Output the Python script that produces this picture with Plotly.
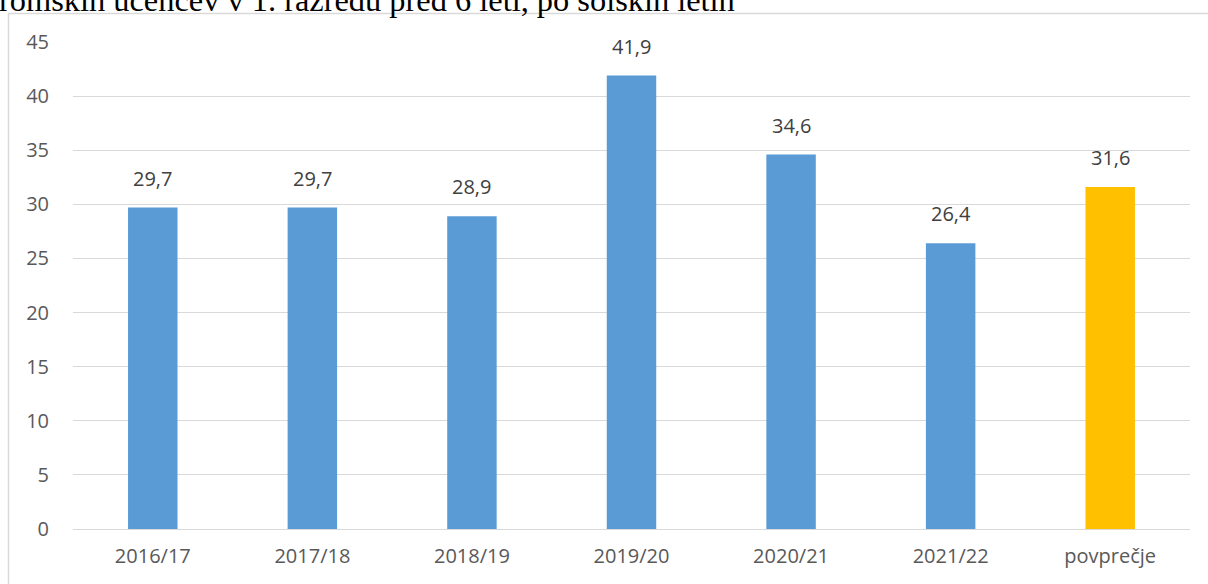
import plotly.graph_objects as go

categories = ["2016/17", "2017/18", "2018/19", "2019/20", "2020/21", "2021/22", "povprečje"]
values = [29.7, 29.7, 28.9, 41.9, 34.6, 26.4, 31.6]
bar_colors = ["#5B9BD5"] * 6 + ["#FFC000"]
y_ticks = [0, 5, 10, 15, 20, 25, 30, 35, 40, 45]
title_text = "romskih učencev v 1. razredu pred 6 leti, po šolskih letih"

W, H = 1208, 584
ML, MR, MT, MB = 73, 18, 42, 55
PW = W - ML - MR
PH = H - MT - MB

fig = go.Figure()
fig.add_trace(go.Bar(
    x=categories, y=values, marker=dict(color=bar_colors, line=dict(width=0)),
    hoverinfo="skip", showlegend=False,
))

for c, v in zip(categories, values):
    fig.add_annotation(
        x=c, y=v, xref="x", yref="y", text=f"{v:.1f}".replace(".", ","),
        showarrow=False, yanchor="bottom", yshift=14,
        font=dict(family="Open Sans, Lato, sans-serif", size=20, color="#404040"),
    )

def px_x(p):
    return (p - ML) / PW

def px_y(p):
    return (H - MB - p) / PH

# clipped title text at top
fig.add_annotation(
    x=px_x(-3), y=px_y(20.5), xref="paper", yref="paper", xanchor="left", yanchor="bottom",
    text=title_text, showarrow=False,
    font=dict(family="Liberation Serif, Times New Roman, serif", size=32.4, color="#000000"),
)

# outer chart border
fig.add_shape(type="rect", xref="paper", yref="paper",
              x0=px_x(8.5), x1=px_x(1215), y0=px_y(13.5), y1=px_y(600),
              line=dict(color="#D9D9D9", width=1.5), fillcolor="rgba(0,0,0,0)", layer="below")

fig.update_layout(
    width=W, height=H,
    margin=dict(l=ML, r=MR, t=MT, b=MB, pad=0),
    paper_bgcolor="white", plot_bgcolor="white",
    bargap=0.69,
    font=dict(family="Open Sans, Lato, sans-serif", size=20, color="#595959"),
    xaxis=dict(showgrid=False, showline=False, ticks="", ticklabelstandoff=13,
               tickfont=dict(size=20, color="#595959"), fixedrange=True),
    yaxis=dict(range=[0, 45], tickvals=y_ticks, showgrid=True, gridcolor="#D9D9D9", gridwidth=1,
               zeroline=True, zerolinecolor="#D9D9D9", zerolinewidth=1.3,
               showline=False, ticks="", ticklabelstandoff=23,
               tickfont=dict(size=20, color="#595959"), fixedrange=True),
)

fig.write_html("out.html", config={"displayModeBar": False},
               post_script="document.body.style.margin='0';document.body.style.overflow='hidden';")
